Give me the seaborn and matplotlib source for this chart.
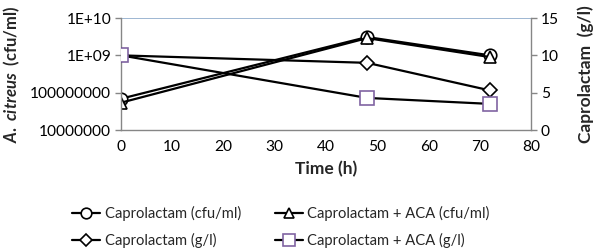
import matplotlib
matplotlib.use('Agg')
import matplotlib.pyplot as plt
import seaborn as sns
import pandas as pd

# data
time_h = [0, 48, 72]
cfu_capro = [6.9e7, 3.1e9, 1.0e9]
cfu_capro_aca = [5.4e7, 2.9e9, 0.9e9]
gl_capro = [10.0, 9.0, 5.3]
gl_capro_aca = [10.0, 4.3, 3.5]

sns.set_style('white')
plt.rcParams['font.family'] = ['Lato', 'DejaVu Sans']
plt.rcParams['mathtext.fontset'] = 'custom'
plt.rcParams['mathtext.it'] = 'Lato:italic:bold'
plt.rcParams['mathtext.rm'] = 'Lato:bold'

axis_grey = '#868686'
grid_blue = '#8EAACB'

fig = plt.figure(figsize=(5.98, 2.52), dpi=100)
ax = fig.add_axes([0.2023, 0.484, 0.686, 0.4444])
ax2 = ax.twinx()

mk = dict(color='black', linewidth=1.6, markersize=9,
          markerfacecolor='white', markeredgecolor='black', markeredgewidth=1.2)

sns.lineplot(x=time_h, y=cfu_capro, ax=ax, marker='o', label='Caprolactam (cfu/ml)', **mk)
sns.lineplot(x=time_h, y=cfu_capro_aca, ax=ax, marker='^', label='Caprolactam + ACA (cfu/ml)', **mk)
sns.lineplot(x=time_h, y=gl_capro, ax=ax2, marker='D', label='Caprolactam (g/l)',
             **{**mk, 'markersize': 7})
sns.lineplot(x=time_h, y=gl_capro_aca, ax=ax2, marker='s', label='Caprolactam + ACA (g/l)',
             **{**mk, 'markeredgecolor': '#8064A2', 'markersize': 10})

# left axis: log scale cfu/ml
ax.set_yscale('log')
ax.set_ylim(1e7, 1e10)
ax.set_yticks([1e7, 1e8, 1e9, 1e10], ['10000000', '100000000', '1E+09', '1E+10'])
ax.minorticks_off()
ax.set_xlim(0, 80)
ax.set_xticks(range(0, 90, 10))
ax.axhline(1e10, color=grid_blue, linewidth=1.2, zorder=0)

ax2.set_ylim(0, 15)
ax2.set_yticks([0, 5, 10, 15])

for a in (ax, ax2):
    for s in a.spines.values():
        s.set_visible(False)
    a.tick_params(length=4, width=1, color=axis_grey, labelsize=11.2, pad=3, labelcolor='black')
    a.get_legend().remove()
ax.spines['left'].set_visible(True)
ax.spines['bottom'].set_visible(True)
ax2.spines['right'].set_visible(True)
for s in (ax.spines['left'], ax.spines['bottom'], ax2.spines['right']):
    s.set_color(axis_grey)
    s.set_linewidth(1)

ax.set_xlabel('Time (h)', fontsize=12.5, fontweight='bold', labelpad=5)
ax.set_ylabel(r'$\it{A.\ citreus}$  (cfu/ml)', fontsize=12, fontweight='bold', labelpad=6)
ax2.set_ylabel('Caprolactam  (g/l)', fontsize=12.5, fontweight='bold', labelpad=13)

h1, l1 = ax.get_legend_handles_labels()
h2, l2 = ax2.get_legend_handles_labels()
handles = [h1[0], h2[0], h1[1], h2[1]]
labels = [l1[0], l2[0], l1[1], l2[1]]
fig.legend(handles, labels, ncol=2, loc='center', bbox_to_anchor=(0.47, 0.1),
           frameon=False, fontsize=10.6, handlelength=1.9, handletextpad=0.3,
           columnspacing=2.3, labelspacing=0.8, markerscale=0.85)

fig.savefig('out.png', dpi=100)
